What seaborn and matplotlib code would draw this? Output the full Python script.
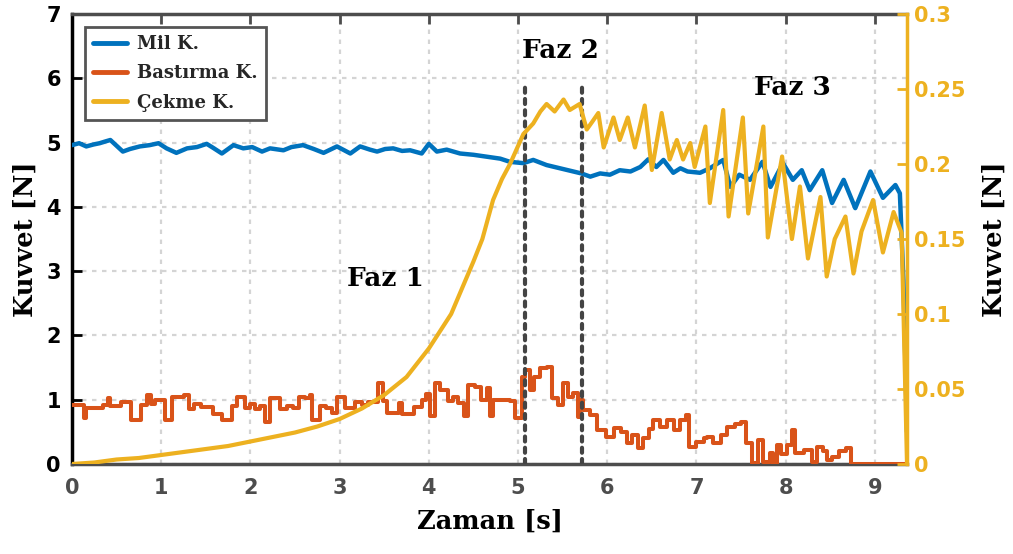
import numpy as np
import pandas as pd
import matplotlib
matplotlib.use("Agg")
import matplotlib.pyplot as plt
import seaborn as sns
from matplotlib.lines import Line2D

# ---------------- data ----------------
mil_t = [0.00, 0.08, 0.16, 0.24, 0.31, 0.38, 0.43, 0.50, 0.57, 0.65, 0.76, 0.87, 0.97, 1.06, 1.17,
         1.29, 1.40, 1.51, 1.58, 1.68, 1.81, 1.92, 2.02, 2.13, 2.22, 2.37, 2.46, 2.59, 2.71, 2.82,
         2.97, 3.12, 3.23, 3.34, 3.42, 3.51, 3.60, 3.70, 3.79, 3.92, 4.00, 4.09, 4.20, 4.35, 4.50,
         4.65, 4.80, 4.91, 5.06, 5.17, 5.32, 5.47, 5.62, 5.71, 5.81, 5.92, 6.03, 6.14, 6.26, 6.37,
         6.46, 6.55, 6.63, 6.74, 6.82, 6.90, 7.04, 7.15, 7.30, 7.38, 7.48, 7.60, 7.74, 7.83, 7.97,
         8.08, 8.18, 8.27, 8.41, 8.52, 8.65, 8.78, 8.95, 9.09, 9.23, 9.28, 9.32, 9.36]
mil_v = [4.96, 4.99, 4.94, 4.97, 4.99, 5.02, 5.04, 4.95, 4.86, 4.90, 4.94, 4.96, 4.99, 4.91, 4.84,
         4.91, 4.93, 4.98, 4.92, 4.83, 4.96, 4.91, 4.93, 4.86, 4.91, 4.88, 4.93, 4.96, 4.90, 4.84,
         4.94, 4.83, 4.94, 4.89, 4.86, 4.90, 4.91, 4.87, 4.88, 4.83, 4.98, 4.86, 4.89, 4.83, 4.81,
         4.78, 4.75, 4.70, 4.68, 4.73, 4.65, 4.60, 4.55, 4.52, 4.47, 4.52, 4.50, 4.57, 4.55, 4.62,
         4.74, 4.62, 4.73, 4.53, 4.60, 4.55, 4.53, 4.60, 4.73, 4.31, 4.50, 4.42, 4.70, 4.31, 4.68,
         4.42, 4.57, 4.26, 4.57, 4.06, 4.42, 3.98, 4.55, 4.14, 4.34, 4.21, 2.86, 0.50]

bas_t = [0.00, 0.13, 0.16, 0.35, 0.40, 0.43, 0.55, 0.66, 0.77, 0.84, 0.88, 0.93, 1.04, 1.12, 1.25,
         1.31, 1.37, 1.45, 1.58, 1.68, 1.79, 1.85, 1.94, 2.00, 2.05, 2.11, 2.16, 2.22, 2.33, 2.41,
         2.48, 2.54, 2.61, 2.67, 2.69, 2.78, 2.85, 2.91, 2.97, 3.06, 3.17, 3.25, 3.32, 3.43, 3.49,
         3.53, 3.66, 3.70, 3.83, 3.92, 3.97, 4.01, 4.07, 4.13, 4.22, 4.27, 4.33, 4.39, 4.44, 4.52,
         4.59, 4.65, 4.69, 4.72, 4.91, 4.97, 5.04, 5.08, 5.13, 5.18, 5.25, 5.33, 5.38, 5.45, 5.50,
         5.56, 5.62, 5.67, 5.69, 5.73, 5.81, 5.88, 5.99, 6.07, 6.15, 6.22, 6.28, 6.35, 6.40, 6.47,
         6.51, 6.59, 6.67, 6.75, 6.82, 6.88, 6.92, 7.00, 7.08, 7.12, 7.19, 7.27, 7.34, 7.43, 7.50,
         7.56, 7.62, 7.69, 7.75, 7.82, 7.86, 7.90, 7.95, 8.02, 8.07, 8.11, 8.20, 8.29, 8.35, 8.42,
         8.46, 8.52, 8.60, 8.68, 8.73, 9.36]
bas_v = [0.92, 0.72, 0.87, 0.92, 1.02, 0.90, 0.96, 0.69, 0.92, 1.07, 0.94, 1.00, 0.69, 1.05, 1.07,
         0.85, 0.94, 0.89, 0.78, 0.69, 0.90, 1.05, 0.87, 0.94, 0.85, 0.90, 0.66, 1.02, 0.85, 0.90,
         0.87, 1.05, 1.02, 1.07, 0.69, 0.90, 0.87, 0.80, 1.05, 0.87, 0.97, 0.92, 0.97, 1.26, 0.98,
         0.80, 0.95, 0.78, 0.88, 1.00, 1.09, 0.74, 1.26, 1.15, 0.98, 1.04, 0.95, 0.74, 1.23, 1.20,
         1.00, 1.18, 0.74, 1.00, 0.98, 0.71, 1.36, 1.46, 1.15, 1.35, 1.49, 1.51, 1.03, 0.92, 1.26,
         1.04, 1.10, 0.73, 1.00, 0.84, 0.76, 0.53, 0.42, 0.56, 0.50, 0.33, 0.45, 0.25, 0.40, 0.55,
         0.68, 0.58, 0.68, 0.53, 0.68, 0.76, 0.27, 0.34, 0.40, 0.42, 0.33, 0.45, 0.58, 0.63, 0.65,
         0.33, 0.02, 0.37, 0.03, 0.17, 0.00, 0.30, 0.15, 0.30, 0.53, 0.17, 0.22, 0.03, 0.27, 0.20,
         0.06, 0.11, 0.20, 0.25, 0.00, 0.00]

cek_t = [0.00, 0.25, 0.50, 0.75, 1.00, 1.25, 1.50, 1.75, 2.00, 2.25, 2.50, 2.75, 3.00, 3.25, 3.50,
         3.75, 4.00, 4.25, 4.50, 4.60, 4.72, 4.82, 4.91, 5.06, 5.17, 5.25, 5.32, 5.41, 5.51, 5.58,
         5.69, 5.77, 5.83, 5.90, 5.96, 6.07, 6.14, 6.23, 6.31, 6.42, 6.50, 6.61, 6.70, 6.78, 6.85,
         6.93, 6.98, 7.10, 7.15, 7.30, 7.36, 7.52, 7.58, 7.75, 7.80, 7.96, 8.07, 8.16, 8.25, 8.39,
         8.46, 8.55, 8.67, 8.76, 8.85, 8.98, 9.09, 9.21, 9.30, 9.36]
cek_v = [0.000, 0.001, 0.003, 0.004, 0.006, 0.008, 0.010, 0.012, 0.015, 0.018, 0.021, 0.025, 0.030,
         0.037, 0.046, 0.058, 0.077, 0.100, 0.135, 0.150, 0.176, 0.190, 0.200, 0.220, 0.227, 0.235,
         0.240, 0.235, 0.243, 0.236, 0.240, 0.223, 0.228, 0.234, 0.211, 0.231, 0.216, 0.231, 0.211,
         0.239, 0.196, 0.234, 0.203, 0.216, 0.203, 0.214, 0.198, 0.225, 0.174, 0.236, 0.165, 0.231,
         0.167, 0.225, 0.151, 0.205, 0.150, 0.185, 0.137, 0.178, 0.125, 0.150, 0.165, 0.127, 0.155,
         0.176, 0.141, 0.168, 0.154, 0.000]

phase_lines = [5.08, 5.72]
phase_labels = ["Faz 1", "Faz 2", "Faz 3"]
phase_label_pos = [(3.51, 2.89), (5.47, 6.44), (8.08, 5.85)]
legend_labels = ["Mil K.", "Bastırma K.", "Çekme K."]

# ---------------- style ----------------
BLUE, RED, YEL = "#0072BD", "#D95319", "#EDB120"
sns.set_theme(style="white")
plt.rcParams["font.family"] = ["DejaVu Sans"]
SERIF = "DejaVu Serif"
TICKFONT = "DejaVu Sans"

fig = plt.figure(figsize=(10.13, 5.54), dpi=100)
ax = fig.add_axes([72/1013, 90/554, 835/1013, 450/554])
ax2 = ax.twinx()

df_mil = pd.DataFrame({"t": mil_t, "v": mil_v})
df_bas = pd.DataFrame({"t": bas_t, "v": bas_v})
df_cek = pd.DataFrame({"t": cek_t, "v": cek_v})

sns.lineplot(data=df_bas, x="t", y="v", ax=ax, color=RED, lw=2.9, estimator=None, sort=False,
             drawstyle="steps-post", zorder=3)
sns.lineplot(data=df_mil, x="t", y="v", ax=ax, color=BLUE, lw=3.2, estimator=None, sort=False, zorder=4)
sns.lineplot(data=df_cek, x="t", y="v", ax=ax2, color=YEL, lw=3.0, estimator=None, sort=False, zorder=3)

for xv in phase_lines:
    ax.plot([xv, xv], [0, 5.95], color="#444444", lw=3.0, linestyle=(0, (1.2, 1.5)),
            dash_capstyle="round", zorder=5)

ax.set_xlim(0, 9.36)
ax.set_ylim(0, 7)
ax2.set_ylim(0, 0.3)
ax.set_xticks(range(0, 10))
ax.set_yticks(range(0, 8))
ax2.set_yticks([0, 0.05, 0.1, 0.15, 0.2, 0.25, 0.3])
ax2.set_yticklabels(["0", "0.05", "0.1", "0.15", "0.2", "0.25", "0.3"])

ax.grid(True, color="#d4d4d4", lw=1.6, linestyle=(0, (2, 2.5)))
ax.set_axisbelow(True)

tick_kw = dict(fontfamily=TICKFONT, fontweight="bold", fontsize=15)
for lab in ax.get_xticklabels():
    lab.set(**tick_kw, color="#4d4d4d")
for lab in ax.get_yticklabels():
    lab.set(**tick_kw, color="black")
for lab in ax2.get_yticklabels():
    lab.set(**tick_kw, color=YEL)

ax.tick_params(axis="x", direction="in", length=7, width=2, color="#4d4d4d", top=True, pad=10)
ax.tick_params(axis="y", direction="in", length=7, width=2, color="black", pad=8)
ax2.tick_params(axis="y", direction="in", length=7, width=2, color=YEL, pad=5)

ax.spines["left"].set_color("black")
ax.spines["left"].set_linewidth(2.5)
ax.spines["bottom"].set_color("#4d4d4d")
ax.spines["bottom"].set_linewidth(2.5)
ax.spines["top"].set_color("#4d4d4d")
ax.spines["top"].set_linewidth(2.5)
ax.spines["right"].set_visible(False)
ax2.spines["right"].set_color(YEL)
ax2.spines["right"].set_linewidth(2.5)
for s in ["left", "top", "bottom"]:
    ax2.spines[s].set_visible(False)

lab_kw = dict(fontfamily=SERIF, fontweight="bold", fontsize=18.5, color="black")
ax.set_xlabel("Zaman [s]", labelpad=8, **lab_kw)
ax.set_ylabel("Kuvvet [N]", labelpad=6, **lab_kw)
ax2.set_ylabel("Kuvvet [N]", labelpad=12, **lab_kw)

for txt, (xv, yv) in zip(phase_labels, phase_label_pos):
    ax.text(xv, yv, txt, ha="center", va="center", fontfamily=SERIF, fontweight="bold",
            fontsize=19, color="black", zorder=6)

handles = [Line2D([], [], color=c, lw=3.5) for c in (BLUE, RED, YEL)]
leg = ax2.legend(handles, legend_labels, loc="upper left",
                 bbox_to_anchor=(85/1013, 1 - 27/554), bbox_transform=fig.transFigure,
                 borderaxespad=0, frameon=True, fancybox=False, handlelength=1.9,
                 handletextpad=0.55, labelspacing=0.62, borderpad=0.45,
                 prop={"family": SERIF, "weight": "bold", "size": 13})
leg.get_frame().set_edgecolor("#555555")
leg.get_frame().set_linewidth(2)
leg.get_frame().set_facecolor("white")
leg.get_frame().set_alpha(1)
leg.set_zorder(10)

fig.savefig("out.png", dpi=100)
